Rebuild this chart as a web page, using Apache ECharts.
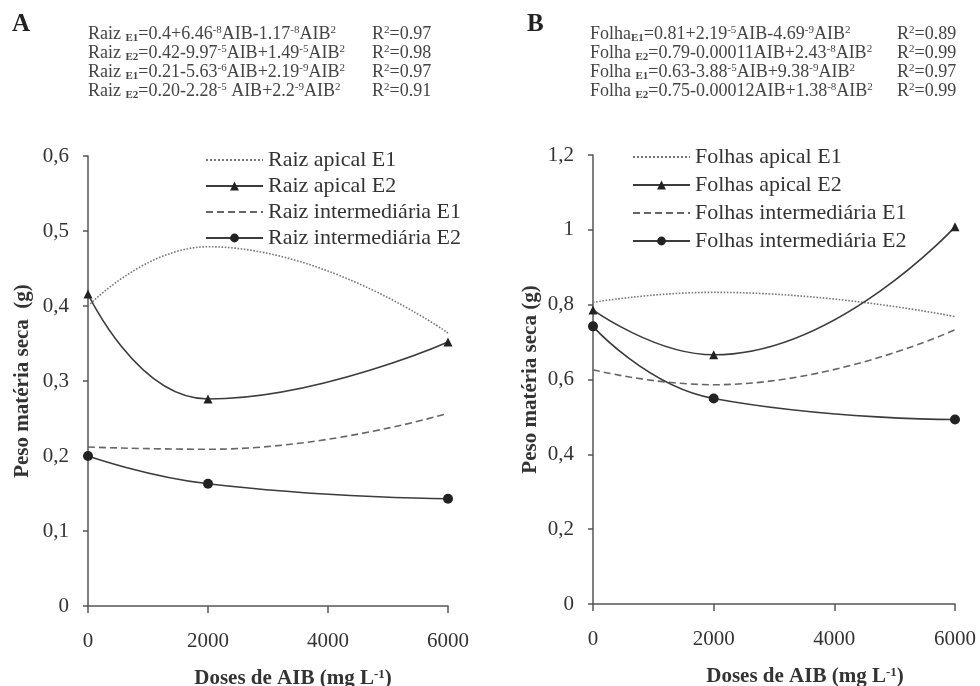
<!DOCTYPE html>
<html>
<head>
<meta charset="utf-8">
<script src="https://cdn.jsdelivr.net/npm/echarts@6/dist/echarts.min.js"></script>
<style>
  html, body { margin: 0; padding: 0; background: #fff; }
  #main { width: 980px; height: 686px; }
</style>
</head>
<body>
<div id="main"></div>
<script>
// doses de AIB (mg L-1)
const doses = [0, 2000, 6000];

// A - raiz
const raizApicalE1 = [0.400, 0.479, 0.364];
const raizApicalE2 = [0.416, 0.276, 0.352];
const raizInterE1 = [0.212, 0.209, 0.257];
const raizInterE2 = [0.200, 0.163, 0.143];

// B - folhas
const folhaApicalE1 = [0.806, 0.833, 0.768];
const folhaApicalE2 = [0.786, 0.666, 1.008];
const folhaInterE1 = [0.626, 0.586, 0.733];
const folhaInterE2 = [0.742, 0.549, 0.493];

const eqA = [
  ['Raiz {sub|E1}=0.4+6.46{sup|-8}AIB-1.17{sup|-8}AIB{sup|2}', 'R{sup|2}=0.97'],
  ['Raiz {sub|E2}=0.42-9.97{sup|-5}AIB+1.49{sup|-5}AIB{sup|2}', 'R{sup|2}=0.98'],
  ['Raiz {sub|E1}=0.21-5.63{sup|-6}AIB+2.19{sup|-9}AIB{sup|2}', 'R{sup|2}=0.97'],
  ['Raiz {sub|E2}=0.20-2.28{sup|-5} AIB+2.2{sup|-9}AIB{sup|2}', 'R{sup|2}=0.91']
];
const eqB = [
  ['Folha{sub|E1}=0.81+2.19{sup|-5}AIB-4.69{sup|-9}AIB{sup|2}', 'R{sup|2}=0.89'],
  ['Folha {sub|E2}=0.79-0.00011AIB+2.43{sup|-8}AIB{sup|2}', 'R{sup|2}=0.99'],
  ['Folha {sub|E1}=0.63-3.88{sup|-5}AIB+9.38{sup|-9}AIB{sup|2}', 'R{sup|2}=0.97'],
  ['Folha {sub|E2}=0.75-0.00012AIB+1.38{sup|-8}AIB{sup|2}', 'R{sup|2}=0.99']
];

const serif = '"Liberation Serif", "DejaVu Serif", serif';
const ink = '#333';

const richEq = {
  sub: { fontSize: 11, fontWeight: 'bold', fontFamily: serif, fill: '#444', lineHeight: 10, verticalAlign: 'bottom' },
  sup: { fontSize: 11, fontFamily: serif, fill: '#444', lineHeight: 10, verticalAlign: 'top' }
};

function eqGraphics(rows, x, xr) {
  const out = [];
  rows.forEach((r, i) => {
    const y = 25 + i * 19;
    out.push({
      type: 'text', left: x, top: y,
      style: { text: r[0], font: '18px ' + serif, fill: '#444', lineHeight: 19, rich: richEq }
    });
    out.push({
      type: 'text', left: xr, top: y,
      style: { text: r[1], font: '18px ' + serif, fill: '#444', lineHeight: 19, rich: richEq }
    });
  });
  return out;
}

function pairs(vals) {
  return doses.map((d, i) => [d, vals[i]]);
}

function mkSeries(name, vals, idx, kind) {
  const s = {
    name: name,
    type: 'line',
    xAxisIndex: idx,
    yAxisIndex: idx,
    data: pairs(vals),
    smooth: 0.5,
    symbol: 'none',
    lineStyle: { color: '#3c3c3c', width: 1.6, type: 'solid' },
    itemStyle: { color: '#222' },
    emphasis: { disabled: true }
  };
  if (kind === 'dot') {
    s.lineStyle = { color: '#777', width: 1.6, type: 'dotted' };
  } else if (kind === 'dash') {
    s.lineStyle = { color: '#666', width: 1.6, type: [7, 4] };
  } else if (kind === 'tri') {
    s.symbol = 'triangle'; s.symbolSize = 9;
  } else if (kind === 'circ') {
    s.symbol = 'circle'; s.symbolSize = 10;
  }
  return s;
}

function yLabel(v) {
  return String(Math.round(v * 10) / 10).replace('.', ',');
}

function xAxis(idx, shift) {
  return {
    type: 'value', gridIndex: idx, min: 0, max: 6000, interval: 2000,
    axisLine: { show: true, lineStyle: { color: '#555', width: 1.5 } },
    axisTick: { show: true, length: 7, lineStyle: { color: '#555', width: 1.5 } },
    axisLabel: { color: ink, fontFamily: serif, fontSize: 21, margin: 25, formatter: v => String(v) },
    splitLine: { show: false },
    name: 'Doses de AIB (mg L{sup|-1})',
    nameLocation: 'middle', nameGap: 62, nameMoveOverlap: false,
    nameTextStyle: {
      color: ink, fontFamily: serif, fontSize: 21, fontWeight: 'bold', padding: [0, 0, 0, shift],
      rich: { sup: { fontSize: 13, fontWeight: 'bold', fontFamily: serif, color: ink, verticalAlign: 'top', lineHeight: 12 } }
    }
  };
}

function yAxis(idx, max, interval, name, gap) {
  return {
    type: 'value', gridIndex: idx, min: 0, max: max, interval: interval,
    axisLine: { show: true, lineStyle: { color: '#555', width: 1.5 } },
    axisTick: { show: true, length: 5, lineStyle: { color: '#555', width: 1.5 } },
    axisLabel: { color: ink, fontFamily: serif, fontSize: 21, margin: 19, formatter: yLabel },
    splitLine: { show: false },
    name: name, nameLocation: 'middle', nameGap: gap, nameMoveOverlap: false,
    nameTextStyle: { color: ink, fontFamily: serif, fontSize: 21, fontWeight: 'bold' }
  };
}

const legendText = { color: ink, fontFamily: serif, fontSize: 22, lineHeight: 22 };
const noMark = { opacity: 0 };

const chart = echarts.init(document.getElementById('main'));
chart.setOption({
  backgroundColor: '#fff',
  animation: false,
  grid: [
    { left: 88, top: 156, width: 360, height: 450, outerBoundsMode: 'none' },
    { left: 593, top: 155, width: 362, height: 449, outerBoundsMode: 'none' }
  ],
  xAxis: [xAxis(0, 50), xAxis(1, 62)],
  yAxis: [
    yAxis(0, 0.6, 0.1, 'Peso matéria seca  (g)', 55),
    yAxis(1, 1.2, 0.2, 'Peso matéria seca (g)', 52)
  ],
  legend: [
    {
      orient: 'vertical', left: 200, top: 144, itemWidth: 57, itemHeight: 11, itemGap: 4,
      textStyle: legendText,
      data: [
        { name: 'Raiz apical E1', itemStyle: noMark },
        'Raiz apical E2',
        { name: 'Raiz intermediária E1', itemStyle: noMark },
        'Raiz intermediária E2'
      ]
    },
    {
      orient: 'vertical', left: 627, top: 141, itemWidth: 57, itemHeight: 11, itemGap: 6,
      textStyle: legendText,
      data: [
        { name: 'Folhas apical E1', itemStyle: noMark },
        'Folhas apical E2',
        { name: 'Folhas intermediária E1', itemStyle: noMark },
        'Folhas intermediária E2'
      ]
    }
  ],
  graphic: [
    { type: 'text', left: 12, top: 12, style: { text: 'A', font: 'bold 25px ' + serif, fill: '#222' } },
    { type: 'text', left: 527, top: 12, style: { text: 'B', font: 'bold 25px ' + serif, fill: '#222' } }
  ].concat(eqGraphics(eqA, 88, 372), eqGraphics(eqB, 590, 897)),
  series: [
    mkSeries('Raiz apical E1', raizApicalE1, 0, 'dot'),
    mkSeries('Raiz apical E2', raizApicalE2, 0, 'tri'),
    mkSeries('Raiz intermediária E1', raizInterE1, 0, 'dash'),
    mkSeries('Raiz intermediária E2', raizInterE2, 0, 'circ'),
    mkSeries('Folhas apical E1', folhaApicalE1, 1, 'dot'),
    mkSeries('Folhas apical E2', folhaApicalE2, 1, 'tri'),
    mkSeries('Folhas intermediária E1', folhaInterE1, 1, 'dash'),
    mkSeries('Folhas intermediária E2', folhaInterE2, 1, 'circ')
  ]
});
</script>
</body>
</html>
